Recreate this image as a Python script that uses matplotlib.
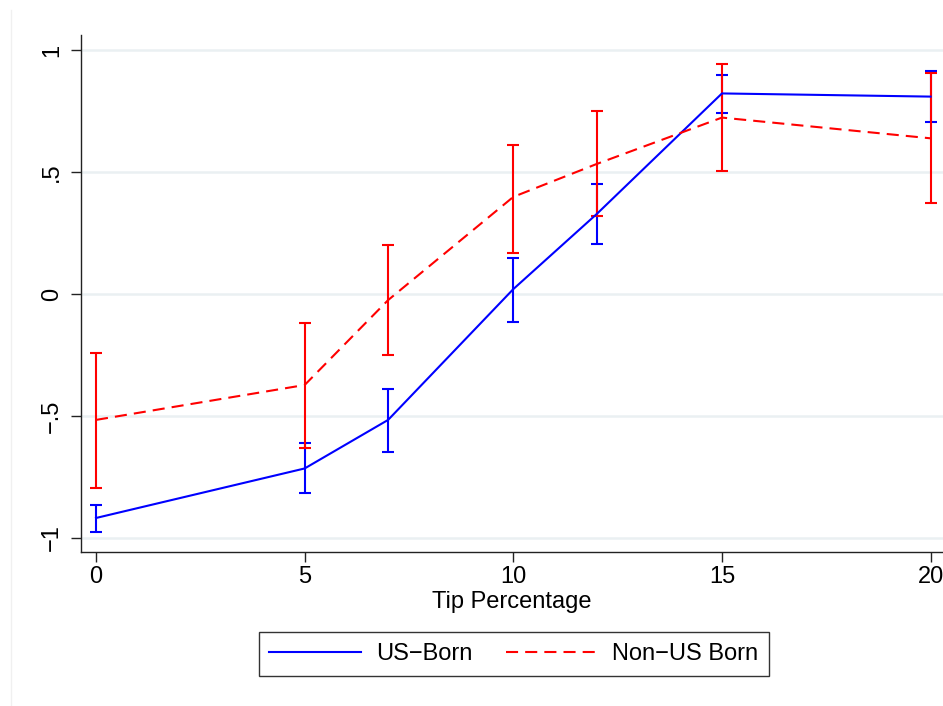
import matplotlib
matplotlib.use("Agg")
import matplotlib.pyplot as plt
from matplotlib.lines import Line2D
import numpy as np

plt.rcParams['font.family'] = ['Liberation Sans', 'DejaVu Sans']

tip = [0, 5, 7, 10, 12, 15, 20]
us_mean = [-0.918, -0.715, -0.516, 0.020, 0.328, 0.822, 0.809]
us_hi   = [-0.865, -0.609, -0.389, 0.148, 0.451, 0.899, 0.915]
us_lo   = [-0.975, -0.817, -0.648, -0.115, 0.205, 0.743, 0.706]
non_mean = [-0.516, -0.373, -0.025, 0.398, 0.533, 0.723, 0.638]
non_hi   = [-0.242, -0.119, 0.201, 0.611, 0.750, 0.943, 0.905]
non_lo   = [-0.794, -0.630, -0.250, 0.168, 0.320, 0.505, 0.373]
yticks = [-1, -0.5, 0, 0.5, 1]
ytick_labels = ['\u22121', '\u2212.5', '0', '.5', '1']
xticks = [0, 5, 10, 15, 20]
xtick_labels = ['0', '5', '10', '15', '20']

W, H = 943, 706
fig = plt.figure(figsize=(W / 100, H / 100), dpi=100)
left, right, top, bottom = 81, 943, 35, 552
ax = fig.add_axes([left / W, 1 - bottom / H, (right - left) / W, (bottom - top) / H])

blue = '#0000ff'
red = '#ff0000'
fs = 17

ax.set_xlim(-15 / 41.73, (right - 96) / 41.73)
ax.set_ylim((294 - bottom) / 244, (294 - top) / 244)

for yv in yticks:
    ax.axhline(yv, color='#eaf0f2', lw=1.8, zorder=0)

us = np.array(us_mean)
non = np.array(non_mean)
ax.errorbar(tip, us, yerr=[us - np.array(us_lo), np.array(us_hi) - us], fmt='none',
            ecolor=blue, elinewidth=1.5, capsize=4.5, capthick=1.5, zorder=2)
ax.errorbar(tip, non, yerr=[non - np.array(non_lo), np.array(non_hi) - non], fmt='none',
            ecolor=red, elinewidth=1.5, capsize=4.5, capthick=1.5, zorder=3)
ax.plot(tip, us, color=blue, lw=1.5, zorder=4, label='US\u2212Born')
ax.plot(tip, non, color=red, lw=1.5, linestyle=(0, (5.8, 3.4)), zorder=5, label='Non\u2212US Born')

for s in ['top', 'right']:
    ax.spines[s].set_visible(False)
for s in ['left', 'bottom']:
    ax.spines[s].set_linewidth(1.0)
    ax.spines[s].set_color('#222222')

ax.set_yticks(yticks)
ax.set_yticklabels(ytick_labels, rotation=90, va='center', fontsize=fs)
ax.set_xticks(xticks)
ax.set_xticklabels(xtick_labels, fontsize=fs)
ax.tick_params(axis='both', direction='out', length=7, width=1.0, color='#222222')
ax.tick_params(axis='x', pad=3)
ax.tick_params(axis='y', pad=6)

fig.text(512 / W, 1 - 602 / H, 'Tip Percentage', ha='center', va='center', fontsize=fs)

handles = [Line2D([], [], color=blue, lw=1.5),
           Line2D([], [], color=red, lw=1.5, linestyle=(0, (5.8, 3.4)))]
leg = fig.legend(handles, ['US\u2212Born', 'Non\u2212US Born'], loc='center',
                 bbox_to_anchor=(514 / W, 1 - 654 / H), ncol=2, fontsize=fs,
                 handlelength=3.9, handletextpad=0.6, columnspacing=1.45,
                 borderpad=0.45, frameon=True, fancybox=False)
leg.get_frame().set_edgecolor('black')
leg.get_frame().set_linewidth(1.0)

fig.add_artist(Line2D([11 / W, 11 / W], [0, 1 - 10 / H], color='#f0f0f0', lw=1.0))

fig.savefig('out.png', dpi=100)
